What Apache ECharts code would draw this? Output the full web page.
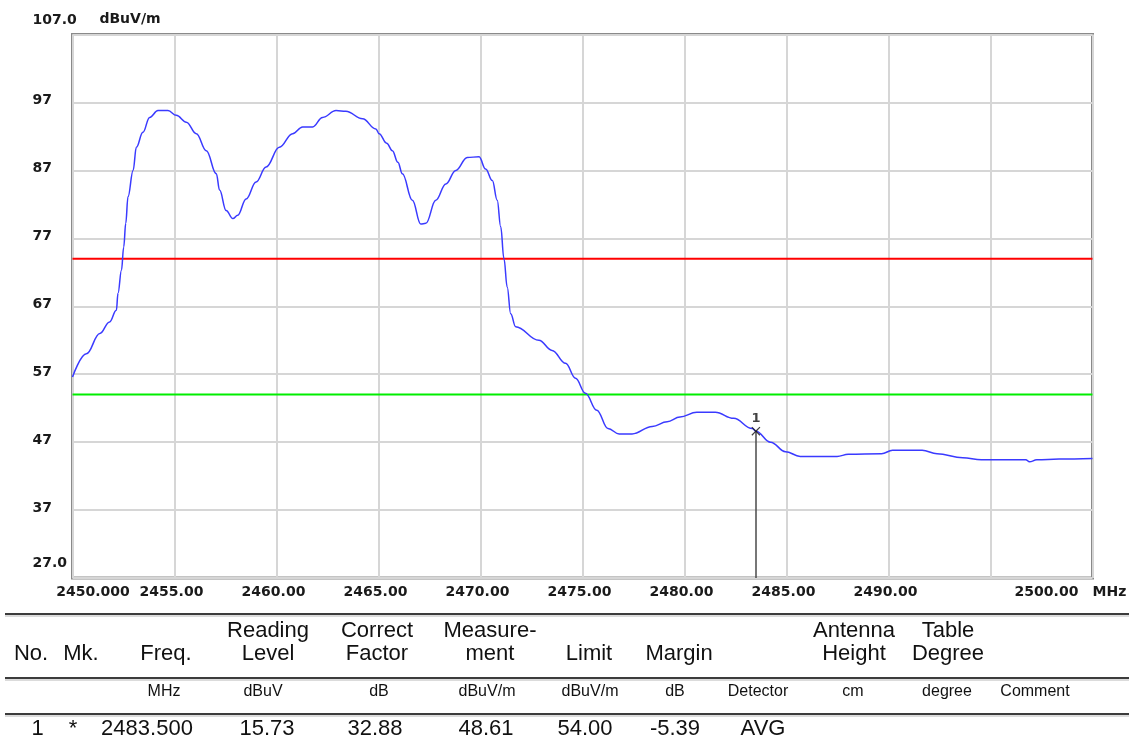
<!DOCTYPE html>
<html>
<head>
<meta charset="utf-8">
<script src="https://cdn.jsdelivr.net/npm/echarts@6/dist/echarts.min.js"></script>
<style>
html,body{margin:0;padding:0;background:#fff;}
#c{width:1129px;height:748px;}
</style>
</head>
<body>
<div id="c"></div>
<script>
// ---- data ----
const freqMHz = [2450.0, 2450.68, 2451.34, 2451.82, 2452.15, 2452.23, 2452.40, 2452.51, 2452.61, 2452.72,
  2452.97, 2453.13, 2453.45, 2453.78, 2454.19, 2454.68, 2455.09, 2455.58, 2456.07, 2456.56,
  2457.05, 2457.21, 2457.53, 2457.86, 2458.10, 2458.51, 2459.00, 2459.49, 2460.14, 2460.79,
  2461.28, 2461.77, 2462.26, 2462.92, 2463.40, 2464.22, 2464.87, 2465.03, 2465.40, 2465.68,
  2465.95, 2466.17, 2466.66, 2467.07, 2467.32, 2467.81, 2468.30, 2468.79, 2469.35, 2469.93,
  2470.25, 2470.58, 2470.82, 2470.99, 2471.15, 2471.31, 2471.48, 2471.72, 2472.86, 2473.51,
  2474.17, 2474.66, 2475.14, 2475.70, 2476.25, 2476.80, 2477.43, 2478.42, 2479.15, 2479.78,
  2480.60, 2481.51, 2482.41, 2483.32, 2483.50, 2484.22, 2484.95, 2485.67, 2487.48, 2488.03,
  2489.66, 2490.20, 2491.65, 2492.38, 2493.64, 2494.55, 2496.73, 2496.91, 2497.27, 2498.36,
  2500.0];
const levelDbuVm = [56.6, 60.0, 63.0, 64.7, 66.4, 68.9, 72.3, 75.7, 79.2, 83.1,
  87.0, 90.4, 92.6, 94.8, 95.8, 95.8, 95.1, 94.1, 92.4, 89.9,
  86.5, 84.1, 81.1, 79.9, 80.4, 82.8, 85.3, 87.5, 90.4, 92.4,
  93.4, 93.4, 94.8, 95.8, 95.7, 94.6, 93.1, 92.4, 91.0, 89.9,
  88.2, 86.5, 82.6, 79.1, 79.2, 82.6, 85.0, 87.0, 88.9, 89.0,
  87.2, 85.5, 82.6, 78.7, 74.0, 69.8, 65.9, 64.0, 62.0, 60.5,
  58.6, 56.4, 54.2, 51.7, 49.0, 48.2, 48.2, 49.3, 50.0, 50.7,
  51.4, 51.4, 50.5, 49.0, 48.61, 47.0, 45.6, 44.9, 44.9, 45.2,
  45.3, 45.8, 45.8, 45.3, 44.7, 44.4, 44.4, 44.1, 44.4, 44.5,
  44.6];
const limitPeak = 74;      // red line
const limitAvg = 54;       // green line
const markerFreq = [2483.5];
const markerLevel = [48.61];
const markerNames = ['1'];

const xTickLabels = ['2450.000', '2455.00', '2460.00', '2465.00', '2470.00', '2475.00',
  '2480.00', '2485.00', '2490.00', '', '2500.00'];
const yTickLabels = ['27.0', '37', '47', '57', '67', '77', '87', '97', '107.0'];
const xUnit = 'MHz';
const yUnit = 'dBuV/m';

const tableHeaders = ['No.', 'Mk.', 'Freq.', 'Reading\nLevel', 'Correct\nFactor', 'Measure-\nment',
  'Limit', 'Margin', 'Antenna\nHeight', 'Table\nDegree'];
const tableUnits = ['MHz', 'dBuV', 'dB', 'dBuV/m', 'dBuV/m', 'dB', 'Detector', 'cm', 'degree', 'Comment'];
const tableRow = ['1', '*', '2483.500', '15.73', '32.88', '48.61', '54.00', '-5.39', 'AVG'];

// ---- layout ----
const headerX = [31, 81, 166, 268, 377, 490, 589, 679, 854, 948];
const unitsX = [164, 263, 379, 487, 590, 675, 758, 853, 947, 1035];
const rowX = [37.5, 73, 147, 267, 375, 486, 585, 675, 763];
const tableLinesY = [614, 678, 714];

const chart = echarts.init(document.getElementById('c'));
const axisFont = 'DejaVu Sans';
const tblFont = 'Liberation Sans';

const graphics = [];
tableLinesY.forEach(y => {
  graphics.push({type: 'line', shape: {x1: 5, y1: y, x2: 1129, y2: y}, style: {stroke: '#3c3c3c', lineWidth: 2}, silent: true});
  graphics.push({type: 'line', shape: {x1: 5, y1: y + 2, x2: 1129, y2: y + 2}, style: {stroke: '#b8b8b8', lineWidth: 1}, silent: true});
});
tableHeaders.forEach((t, i) => {
  graphics.push({type: 'text', x: headerX[i], y: 665, style: {text: t, fill: '#111',
    font: '22px "' + tblFont + '"', align: 'center', verticalAlign: 'bottom', lineHeight: 23}});
});
tableUnits.forEach((t, i) => {
  graphics.push({type: 'text', x: unitsX[i], y: 692, style: {text: t, fill: '#111',
    font: '16px "' + tblFont + '"', align: 'center', verticalAlign: 'middle'}});
});
tableRow.forEach((t, i) => {
  graphics.push({type: 'text', x: rowX[i], y: 729, style: {text: t, fill: '#111',
    font: '22px "' + tblFont + '"', align: 'center', verticalAlign: 'middle'}});
});

const xMin = 2450, xMax = 2500, xStep = 5;
const yMin = 27, yMax = 107, yStep = 10;
const lblStyle = {fontFamily: axisFont, fontWeight: 'bold', fontSize: 14, color: '#1a1a1a'};

const option = {
  animation: false,
  backgroundColor: '#fff',
  grid: {left: 72.5, right: 36.5, top: 34.5, bottom: 170, show: true,
    borderColor: '#8a8a8a', borderWidth: 3, backgroundColor: 'transparent', outerBoundsMode: 'none'},
  xAxis: {
    type: 'value', min: xMin, max: xMax, interval: xStep,
    name: xUnit, nameLocation: 'end', nameGap: 0,
    nameTextStyle: Object.assign({}, lblStyle, {verticalAlign: 'top', lineHeight: 28, align: 'left'}),
    axisLine: {show: false}, axisTick: {show: false},
    splitLine: {show: true, lineStyle: {color: '#d6d6d6', width: 2}},
    axisLabel: {
      margin: 7, showMinLabel: true, showMaxLabel: true,
      formatter: v => {
        const t = xTickLabels[Math.round((v - xMin) / xStep)];
        if (v === xMin) return '{first|' + t + '}';
        if (v === xMax) return '{last|' + t + '}';
        return '{n|' + t + '}';
      },
      rich: {
        first: Object.assign({}, lblStyle, {padding: [0, 0, 0, 41]}),
        last: Object.assign({}, lblStyle, {padding: [0, 92, 0, 0]}),
        n: Object.assign({}, lblStyle, {padding: [0, 6, 0, 0]})
      }
    }
  },
  yAxis: {
    type: 'value', min: yMin, max: yMax, interval: yStep,
    name: yUnit, nameLocation: 'end', nameGap: 8,
    nameTextStyle: Object.assign({}, lblStyle, {padding: [0, 0, 0, 115]}),
    axisLine: {show: false}, axisTick: {show: false},
    splitLine: {show: true, lineStyle: {color: '#d6d6d6', width: 2}},
    axisLabel: {
      align: 'left', margin: 40, showMinLabel: true, showMaxLabel: true,
      formatter: v => {
        const t = yTickLabels[Math.round((v - yMin) / yStep)];
        if (v === yMin || v === yMax) return '{e|' + t + '}';
        return '{n|' + t + '}';
      },
      rich: {
        e: Object.assign({}, lblStyle, {padding: [0, 0, 29, 0]}),
        n: Object.assign({}, lblStyle, {padding: [0, 0, 4, 0]})
      }
    }
  },
  series: [
    {
      type: 'line', data: [[xMin, limitPeak], [xMax, limitPeak]], showSymbol: false, silent: true,
      lineStyle: {color: '#ff0000', width: 2}, z: 3
    },
    {
      type: 'line', data: [[xMin, limitAvg], [xMax, limitAvg]], showSymbol: false, silent: true,
      lineStyle: {color: '#00ee00', width: 2}, z: 3
    },
    {
      type: 'line', data: freqMHz.map((f, i) => [f, levelDbuVm[i]]), showSymbol: false,
      smooth: 0.4, smoothMonotone: 'x',
      lineStyle: {color: '#3a3aff', width: 1.5}, z: 4
    },
    {
      type: 'scatter', z: 6,
      data: markerFreq.map((f, i) => ({value: [f, markerLevel[i]], name: markerNames[i]})),
      symbol: 'path://M0,1L1,0L5,4L9,0L10,1L6,5L10,9L9,10L5,6L1,10L0,9L4,5Z',
      symbolSize: 9,
      itemStyle: {color: '#111'},
      label: {show: true, position: 'top', distance: 2, formatter: p => p.name,
        fontFamily: axisFont, fontWeight: 'bold', fontSize: 13, color: '#111'},
      markLine: {
        silent: true, symbol: ['none', 'none'], label: {show: false},
        lineStyle: {color: '#4a4a4a', width: 1.5, type: 'solid'},
        data: markerFreq.map((f, i) => [{coord: [f, markerLevel[i]]}, {coord: [f, yMin]}])
      }
    }
  ],
  graphic: graphics
};
chart.setOption(option);
</script>
</body>
</html>
